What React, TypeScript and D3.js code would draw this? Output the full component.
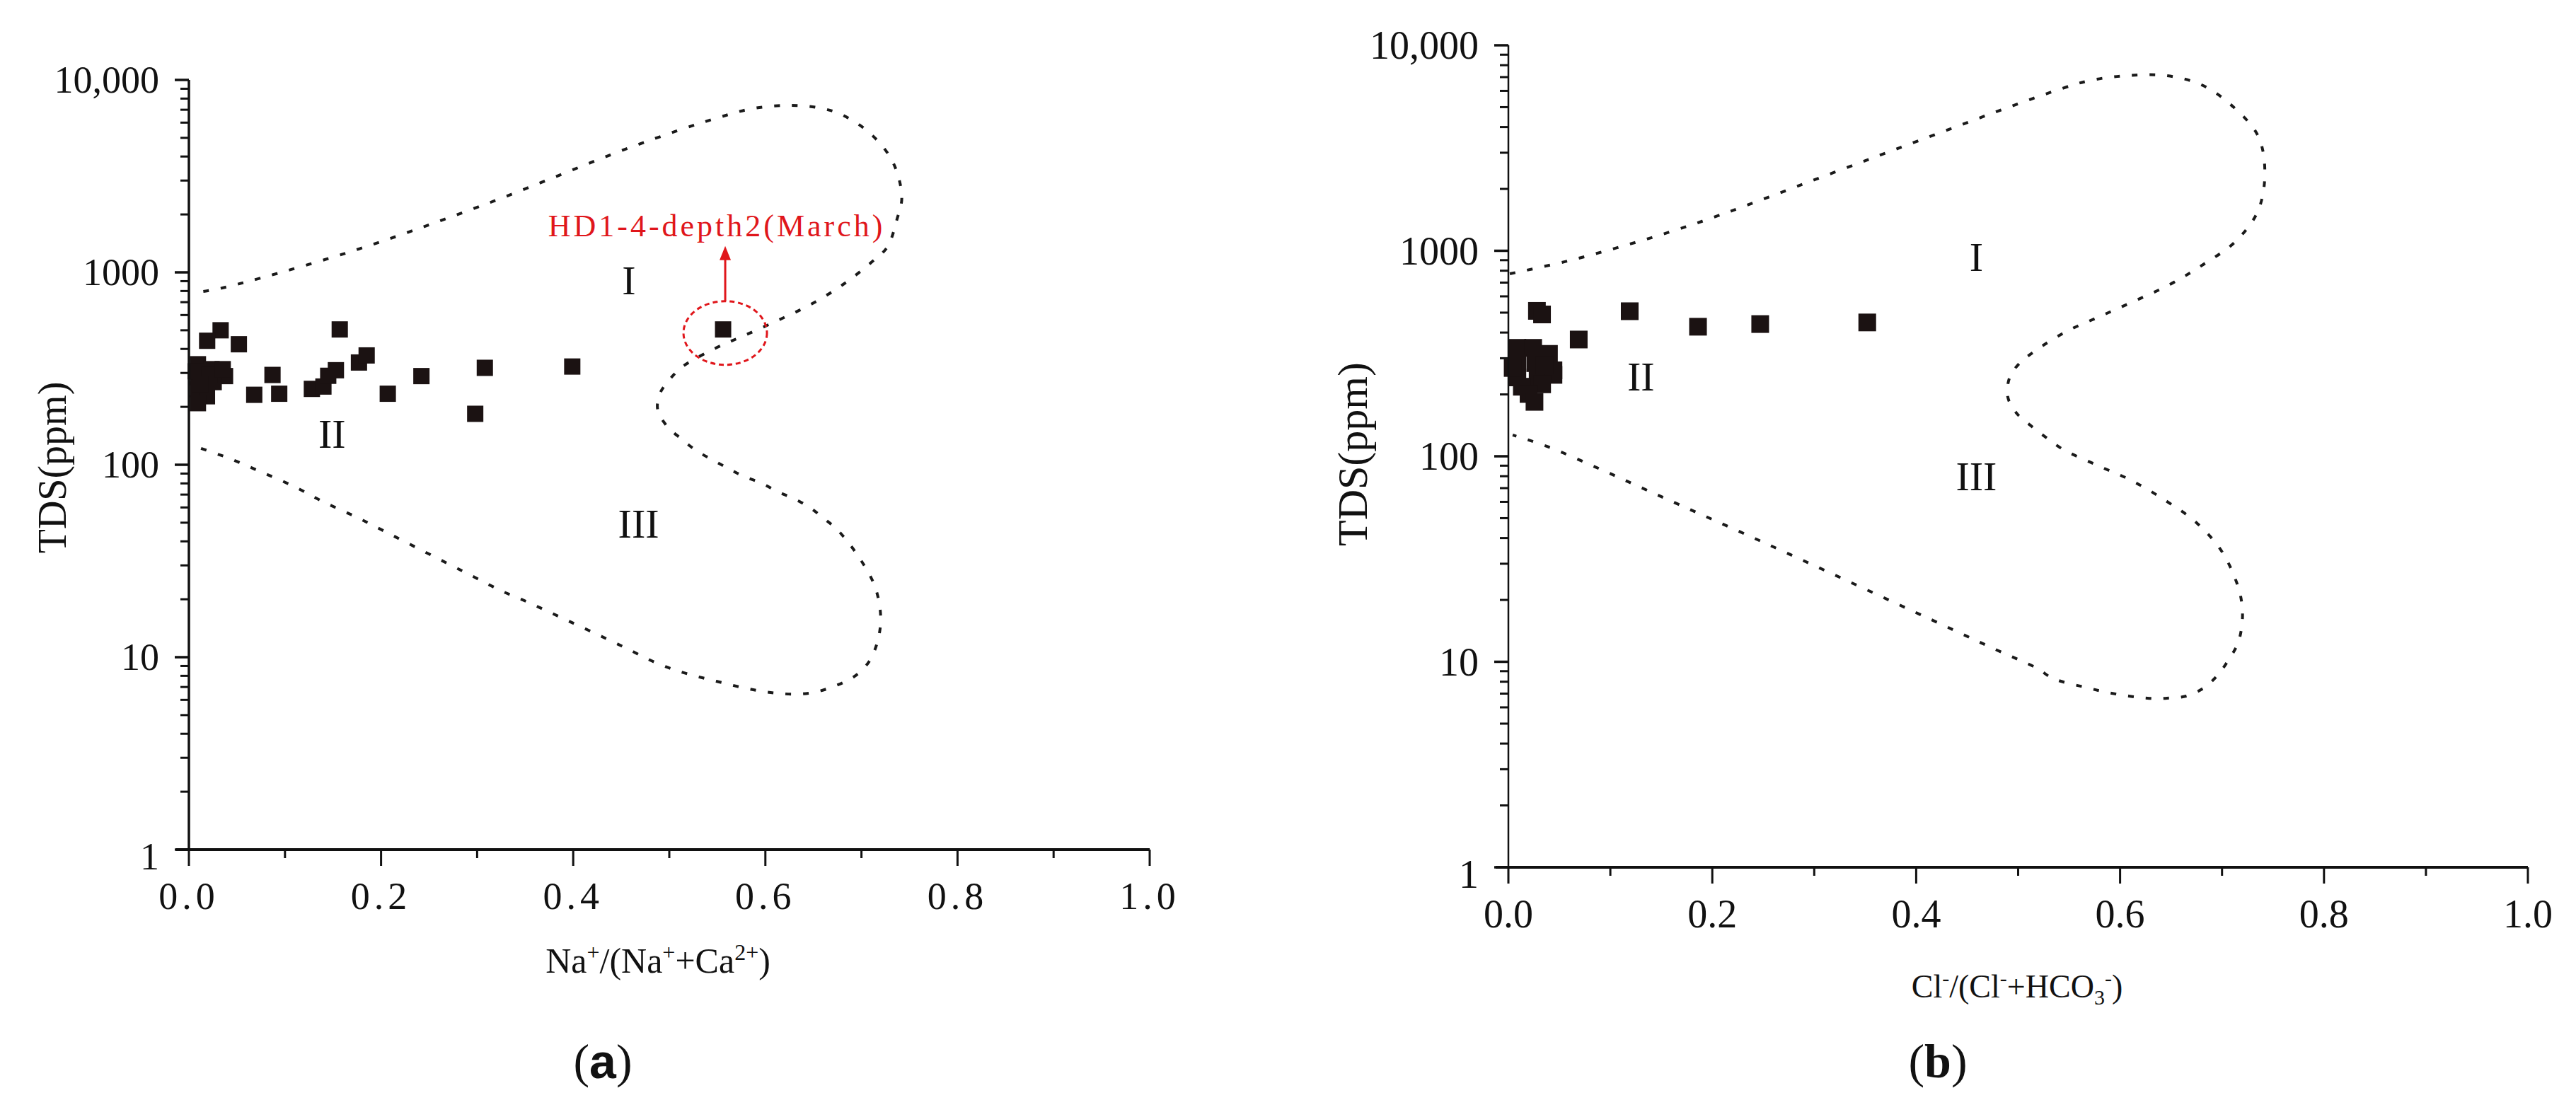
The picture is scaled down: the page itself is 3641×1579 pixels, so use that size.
import * as d3 from 'd3';
import React from 'react';

const W = 3641;
const H = 1579;
const SERIF = "'Liberation Serif', 'Times New Roman', serif";

// panel (a): Na+/(Na+ + Ca2+) against TDS
const naRatio = [
  0.157, 0.033, 0.019, 0.052,
  0.0094, 0.0235, 0.0376, 0.0094, 0.0258, 0.0094, 0.0188, 0.0094, 0.0071, 0.0211, 0.0118, 0.0352,
  0.087, 0.068, 0.094, 0.128, 0.14, 0.145, 0.153, 0.177, 0.185,
  0.207, 0.242, 0.308, 0.298, 0.399, 0.556,
];
const naTds = [
  505, 500, 441, 423,
  333, 314, 289, 285, 269, 247, 227, 209, 306, 293, 262, 314,
  293, 231, 234, 248, 255, 290, 310, 340, 370,
  234, 289, 319, 184, 324, 505,
];

// panel (b): Cl-/(Cl- + HCO3-) against TDS
const clRatio = [
  0.028, 0.033, 0.119, 0.186, 0.247, 0.352, 0.069,
  0.0088, 0.0243, 0.0398, 0.0088, 0.0264, 0.0442, 0.0088, 0.0287, 0.0442, 0.0132, 0.0331, 0.0198, 0.0256, 0.0042, 0.0354,
];
const clTds = [
  510, 490, 508, 427, 440, 448, 370,
  337, 337, 315, 284, 284, 262, 242, 242, 249, 218, 224, 201, 184, 269, 277,
];

// Gibbs envelope (dotted boundary)
const gibbsAx = [
  0.015, 0.035, 0.163, 0.306, 0.462, 0.549, 0.589, 0.627, 0.658, 0.681, 0.711, 0.733, 0.742, 0.737, 0.727,
  0.711, 0.681, 0.648, 0.616, 0.582, 0.563, 0.547, 0.514, 0.5, 0.49, 0.488, 0.498, 0.512, 0.528, 0.545,
  0.561, 0.577, 0.596, 0.613, 0.63, 0.646, 0.66, 0.675, 0.697, 0.714, 0.72, 0.717, 0.708, 0.693, 0.672,
  0.645, 0.612, 0.58, 0.549, 0.518, 0.488, 0.451, 0.378, 0.346, 0.328, 0.293, 0.192, 0.176, 0.141, 0.11,
  0.075, 0.04, 0.004,
];
const gibbsAy = [
  796, 830, 1257, 2234, 4510, 6327, 7130, 7376, 7130, 6550, 5170, 3715, 2454, 1888, 1356,
  1135, 866, 684, 572, 479, 436, 401, 324, 276, 233, 192, 158, 137, 118.6, 106,
  96, 87.3, 80.2, 72.4, 66.6, 60.1, 53, 45.9, 33.3, 23.3, 16.3, 12.2, 9.5, 7.96, 7.07,
  6.49, 6.49, 6.89, 7.5, 8.22, 9.27, 11.4, 16.9, 20, 21.8, 26.7, 48.3, 53, 63.8, 76.9,
  91.9, 108.9, 125.7,
];
const gibbsBx = [
  0.0014, 0.0555, 0.1096, 0.1624, 0.2151, 0.3595, 0.533, 0.57, 0.607, 0.645, 0.68, 0.711, 0.7356, 0.742,
  0.735, 0.7127, 0.6815, 0.649, 0.615, 0.581, 0.547, 0.5156, 0.5003, 0.4913, 0.49, 0.499, 0.5135, 0.5288,
  0.544, 0.578, 0.612, 0.645, 0.675, 0.7, 0.7155, 0.7196, 0.7196, 0.7155, 0.7064, 0.6947, 0.6815, 0.6648,
  0.646, 0.627, 0.6086, 0.5885, 0.57, 0.534, 0.519, 0.4775, 0.394, 0.2554, 0.1437, 0.093, 0.0396, 0.0042,
];
const gibbsBy = [
  773, 885, 1045, 1253, 1540, 2858, 5929, 6730, 7120, 7120, 6414, 5017, 3597, 2363,
  1552, 1104, 857, 686, 572, 481, 404, 323, 280, 239, 193, 161, 139.5, 122,
  108, 90.2, 75.9, 60.7, 47.5, 34.3, 23.4, 18.8, 15.2, 12.3, 10.2, 8.5, 7.43, 6.81,
  6.65, 6.65, 6.81, 7.08, 7.43, 8.3, 9.27, 11.5, 17.9, 37.1, 65.7, 85.3, 110.9, 126.9,
];

const yMajor = [1, 10, 100, 1000, 10000];
const yMajorLabels = ['1', '10', '100', '1000', '10,000'];
const xMajor = [0, 0.2, 0.4, 0.6, 0.8, 1.0];
const xMinor = [0.1, 0.3, 0.5, 0.7, 0.9];

const zoneNames = ['I', 'II', 'III'];
const zoneAx = [0.458, 0.149, 0.468];
const zoneAy = [904, 145, 49.5];
const zoneBx = [0.459, 0.13, 0.459];
const zoneBy = [928, 243, 80];

const hdLabel = 'HD1-4-depth2(March)';
const hdX = 0.556;
const hdY = 505;

type Box = { x0: number; x1: number; y0: number; y1: number };

type PanelProps = {
  box: Box;
  px: number[];
  py: number[];
  gx: number[];
  gy: number[];
  zx: number[];
  zy: number[];
  marker: number;
  tickFont: number;
  xSpacing: number;
  yAxisW: number;
  extra?: (x: d3.ScaleLinear<number, number>, y: d3.ScaleLogarithmic<number, number>) => React.ReactNode;
};

function Panel({ box, px, py, gx, gy, zx, zy, marker, tickFont, xSpacing, yAxisW, extra }: PanelProps) {
  const x = d3.scaleLinear().domain([0, 1]).range([box.x0, box.x1]);
  const y = d3.scaleLog().domain([1, 10000]).range([box.y1, box.y0]);

  const minor: number[] = [];
  [1, 10, 100, 1000].forEach((d) => {
    for (let k = 2; k <= 9; k++) minor.push(d * k);
  });

  const line = d3
    .line<number>()
    .x((i) => x(gx[i]))
    .y((i) => y(gy[i]))
    .curve(d3.curveCatmullRom.alpha(0.5));

  return (
    <g fontFamily={SERIF} fill="#111">
      <path
        d={line(d3.range(gx.length)) ?? ''}
        fill="none"
        stroke="#1a1a1a"
        strokeWidth={4}
        strokeDasharray="8 17"
      />

      {px.map((v, i) => (
        <rect
          key={i}
          x={x(v) - marker / 2}
          y={y(py[i]) - marker / 2}
          width={marker}
          height={marker}
          fill="#1b1212"
        />
      ))}

      {zoneNames.map((n, i) => (
        <text key={n} x={x(zx[i])} y={y(zy[i])} textAnchor="middle" dominantBaseline="central" fontSize={58}>
          {n}
        </text>
      ))}

      {extra && extra(x, y)}

      {/* axes */}
      <line x1={box.x0} x2={box.x0} y1={box.y0} y2={box.y1} stroke="#111" strokeWidth={yAxisW} />
      <line x1={box.x0 - 18} x2={box.x1} y1={box.y1} y2={box.y1} stroke="#111" strokeWidth={4} />
      {yMajor.map((t, i) => (
        <g key={t}>
          <line x1={box.x0 - 20} x2={box.x0} y1={y(t)} y2={y(t)} stroke="#111" strokeWidth={3.5} />
          <text
            x={box.x0 - 42}
            y={y(t) + (t === 1 ? 10 : 0)}
            textAnchor="end"
            dominantBaseline="central"
            fontSize={tickFont}
          >
            {yMajorLabels[i]}
          </text>
        </g>
      ))}
      {minor.map((t) => (
        <line key={t} x1={box.x0 - 12} x2={box.x0} y1={y(t)} y2={y(t)} stroke="#111" strokeWidth={3} />
      ))}
      {xMajor.map((v) => (
        <g key={v}>
          <line x1={x(v)} x2={x(v)} y1={box.y1} y2={box.y1 + 23} stroke="#111" strokeWidth={3} />
          <text
            x={x(v)}
            y={box.y1 + 66}
            textAnchor="middle"
            dominantBaseline="central"
            fontSize={tickFont}
            letterSpacing={xSpacing}
          >
            {v.toFixed(1)}
          </text>
        </g>
      ))}
      {xMinor.map((v) => (
        <line key={v} x1={x(v)} x2={x(v)} y1={box.y1} y2={box.y1 + 12} stroke="#111" strokeWidth={3} />
      ))}
    </g>
  );
}

export default function App() {
  const boxA: Box = { x0: 267, x1: 1625, y0: 113, y1: 1201 };
  const boxB: Box = { x0: 2132, x1: 3573, y0: 64, y1: 1226 };

  const annotate = (x: d3.ScaleLinear<number, number>, y: d3.ScaleLogarithmic<number, number>) => {
    const cx = x(hdX) + 3;
    const cy = y(hdY) + 5;
    const ry = 45;
    return (
      <g>
        <ellipse cx={cx} cy={cy} rx={59} ry={ry} fill="none" stroke="#e0161b" strokeWidth={3} strokeDasharray="7 5" />
        <line x1={cx} x2={cx} y1={cy - ry} y2={cy - ry - 62} stroke="#e0161b" strokeWidth={3} />
        <path d={`M${cx - 8},${cy - ry - 58} L${cx},${cy - ry - 78} L${cx + 8},${cy - ry - 58} Z`} fill="#e0161b" />
        <text
          x={cx - 12}
          y={cy - ry - 106}
          textAnchor="middle"
          dominantBaseline="central"
          fontSize={44}
          letterSpacing={4}
          fill="#e0161b"
        >
          {hdLabel}
        </text>
      </g>
    );
  };

  return (
    <div style={{ position: 'absolute', left: 0, top: 0 }}>
      <svg width={W} height={H} style={{ display: 'block' }}>
        <rect width={W} height={H} fill="#ffffff" />

        <Panel
          box={boxA}
          px={naRatio}
          py={naTds}
          gx={gibbsAx}
          gy={gibbsAy}
          zx={zoneAx}
          zy={zoneAy}
          marker={23}
          tickFont={54}
          xSpacing={6}
          yAxisW={3.5}
          extra={annotate}
        />
        <Panel
          box={boxB}
          px={clRatio}
          py={clTds}
          gx={gibbsBx}
          gy={gibbsBy}
          zx={zoneBx}
          zy={zoneBy}
          marker={25}
          tickFont={56}
          xSpacing={0}
          yAxisW={2.5}
        />

        {/* axis titles */}
        <g fontFamily={SERIF} fill="#111">
          <text transform="translate(74,661) rotate(-90)" textAnchor="middle" dominantBaseline="central" fontSize={56}>
            TDS(ppm)
          </text>
          <text transform="translate(1912,642) rotate(-90)" textAnchor="middle" dominantBaseline="central" fontSize={60}>
            TDS(ppm)
          </text>

          <text x={930} y={1375} textAnchor="middle" fontSize={50}>
            Na<tspan dy={-18} fontSize={32}>+</tspan>
            <tspan dy={18}>/(Na</tspan>
            <tspan dy={-18} fontSize={32}>+</tspan>
            <tspan dy={18}>+Ca</tspan>
            <tspan dy={-18} fontSize={32}>2+</tspan>
            <tspan dy={18}>)</tspan>
          </text>

          <text x={2851} y={1410} textAnchor="middle" fontSize={46}>
            Cl<tspan dy={-17} fontSize={30}>-</tspan>
            <tspan dy={17}>/(Cl</tspan>
            <tspan dy={-17} fontSize={30}>-</tspan>
            <tspan dy={17}>+HCO</tspan>
            <tspan dy={10} fontSize={30}>3</tspan>
            <tspan dy={-27} fontSize={30}>-</tspan>
            <tspan dy={17}>)</tspan>
          </text>

          <text x={852} y={1500} textAnchor="middle" dominantBaseline="central" fontSize={68}>
            (<tspan fontWeight="bold" fontFamily="'Liberation Sans', Arial, sans-serif">a</tspan>)
          </text>
          <text x={2739} y={1500} textAnchor="middle" dominantBaseline="central" fontSize={68}>
            (<tspan fontWeight="bold">b</tspan>)
          </text>
        </g>
      </svg>
    </div>
  );
}
